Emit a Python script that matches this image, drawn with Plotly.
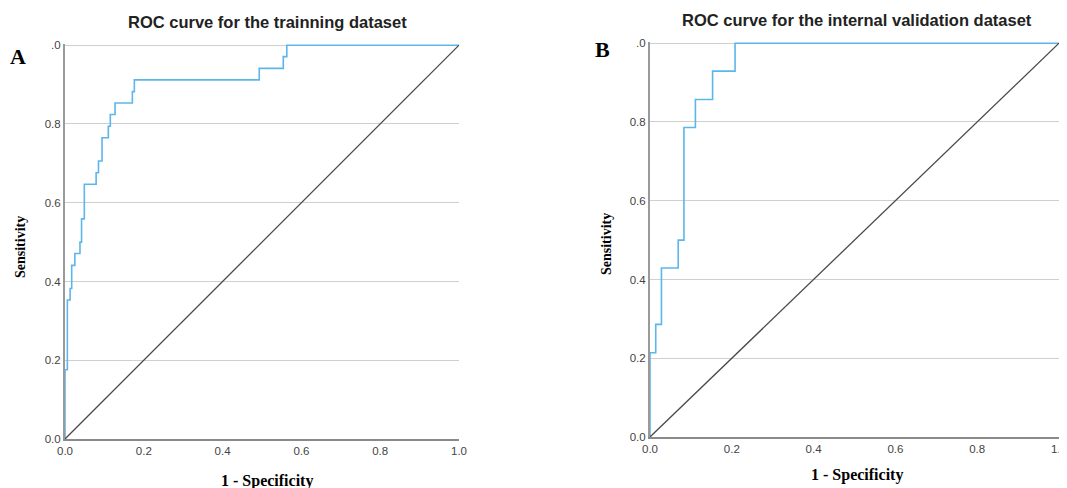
import plotly.graph_objects as go

# Panel A: training dataset ROC (step points)
train_fpr = [0.0, 0.0, 0.006, 0.006, 0.013, 0.013, 0.017, 0.017, 0.025, 0.025, 0.038, 0.038,
             0.042, 0.042, 0.049, 0.049, 0.079, 0.079, 0.085, 0.085, 0.094, 0.094, 0.110, 0.110,
             0.115, 0.115, 0.127, 0.127, 0.171, 0.171, 0.176, 0.176, 0.493, 0.493, 0.554, 0.554,
             0.563, 0.563, 1.0]
train_tpr = [0.0, 0.176, 0.176, 0.353, 0.353, 0.382, 0.382, 0.441, 0.441, 0.471, 0.471, 0.500,
             0.500, 0.559, 0.559, 0.647, 0.647, 0.676, 0.676, 0.706, 0.706, 0.765, 0.765, 0.794,
             0.794, 0.824, 0.824, 0.853, 0.853, 0.882, 0.882, 0.912, 0.912, 0.941, 0.941, 0.971,
             0.971, 1.0, 1.0]

# Panel B: internal validation dataset ROC (step points)
val_fpr = [0.0, 0.0, 0.014, 0.014, 0.028, 0.028, 0.069, 0.069, 0.083, 0.083, 0.111, 0.111,
           0.153, 0.153, 0.208, 0.208, 1.0]
val_tpr = [0.0, 0.214, 0.214, 0.286, 0.286, 0.429, 0.429, 0.500, 0.500, 0.786, 0.786, 0.857,
           0.857, 0.929, 0.929, 1.0, 1.0]

ref_line = [0.0, 1.0]
tick_vals = [0.0, 0.2, 0.4, 0.6, 0.8, 1.0]
x_tick_text = ["0.0", "0.2", "0.4", "0.6", "0.8", "1.0"]
y_tick_text = ["0.0", "0.2", "0.4", "0.6", "0.8", ".0"]

titles = ["ROC curve for the trainning dataset", "ROC curve for the internal validation dataset"]
panel_labels = ["A", "B"]

# page body has an 8px margin; figure covers window pixels 8..1067 x 8..488
OFF = 8
FW, FH = 1067 - OFF, 488 - OFF
curve_color = "#5db6ea"
diag_color = "#4a4a4a"

def px(x):
    return (x - OFF) / FW

def py(y):
    return 1 - (y - OFF) / FH

fig = go.Figure()
fig.add_trace(go.Scatter(x=train_fpr, y=train_tpr, mode="lines", line=dict(color=curve_color, width=1.6),
                         xaxis="x", yaxis="y", showlegend=False))
fig.add_trace(go.Scatter(x=ref_line, y=ref_line, mode="lines", line=dict(color=diag_color, width=1.3),
                         xaxis="x", yaxis="y", showlegend=False))
fig.add_trace(go.Scatter(x=val_fpr, y=val_tpr, mode="lines", line=dict(color=curve_color, width=1.6),
                         xaxis="x2", yaxis="y2", showlegend=False))
fig.add_trace(go.Scatter(x=ref_line, y=ref_line, mode="lines", line=dict(color=diag_color, width=1.3),
                         xaxis="x2", yaxis="y2", showlegend=False))

tickfont = dict(family="Liberation Sans, Arial", size=11.5, color="#444")

def xax(domain, anchor):
    return dict(domain=domain, anchor=anchor, range=[0, 1], tickvals=tick_vals, ticktext=x_tick_text,
                showgrid=False, zeroline=False, showline=True, linecolor="#8a8a8a", linewidth=1.5,
                ticks="", tickfont=tickfont, fixedrange=True, automargin=False)

def yax(domain, anchor):
    return dict(domain=domain, anchor=anchor, range=[0, 1.003], tickvals=tick_vals, ticktext=y_tick_text,
                showgrid=True, gridcolor="#cfcfcf", gridwidth=1.2, zeroline=False, showline=True,
                linecolor="#9a9a9a", linewidth=2, ticks="", tickfont=tickfont, fixedrange=True,
                automargin=False)

fig.update_layout(
    width=FW, height=FH, margin=dict(l=0, r=0, t=0, b=0, autoexpand=False),
    paper_bgcolor="white", plot_bgcolor="white",
    xaxis=xax([px(65), px(459)], "y"),
    yaxis=yax([py(439), py(44)], "x"),
    xaxis2=xax([px(650), px(1059)], "y2"),
    yaxis2=yax([py(437), py(42)], "x2"),
)

def A(x, y, text, font, **kw):
    return dict(x=px(x), y=py(y), xref="paper", yref="paper", text=text, showarrow=False,
                font=font, xanchor="center", yanchor="middle", **kw)

title_font = dict(family="Liberation Sans, Arial", size=16.5, color="#222")
lab_font = dict(family="Liberation Serif, Times New Roman", size=22, color="black")
axt_font = dict(family="Liberation Serif, Times New Roman", size=14, color="black")
xt_font = dict(family="Liberation Serif, Times New Roman", size=16, color="black")

ann = [
    A(267, 22, "<b>" + titles[0] + "</b>", title_font),
    A(857, 20, "<b>" + titles[1] + "</b>", title_font),
    A(18, 57, "<b>" + panel_labels[0] + "</b>", lab_font),
    A(602, 49, "<b>" + panel_labels[1] + "</b>", lab_font),
    A(20, 247, "<b>Sensitivity</b>", axt_font, textangle=-90),
    A(606, 244, "<b>Sensitivity</b>", axt_font, textangle=-90),
    A(267, 481, "<b>1 - Specificity</b>", xt_font),
    A(857, 475, "<b>1 - Specificity</b>", xt_font),
]
fig.update_layout(annotations=ann)

fig.write_html("out.html")
